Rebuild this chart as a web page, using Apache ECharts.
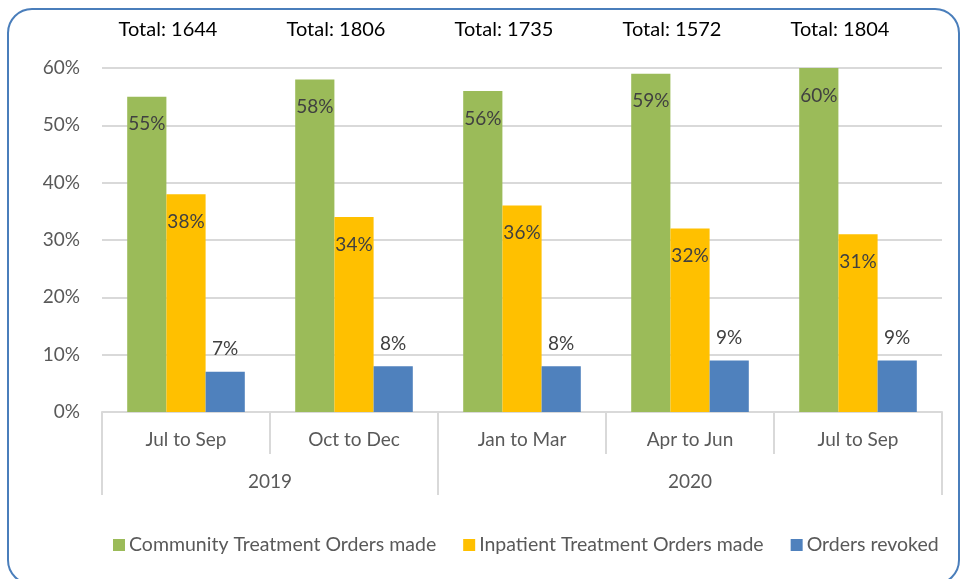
<!DOCTYPE html>
<html>
<head>
<meta charset="utf-8">
<script src="https://cdn.jsdelivr.net/npm/echarts@6/dist/echarts.min.js"></script>
<style>html,body{margin:0;padding:0;background:#fff;}#c{width:960px;height:579px;}</style>
</head>
<body>
<div id="c"></div>
<script>
const quarters = ['Jul to Sep', 'Oct to Dec', 'Jan to Mar', 'Apr to Jun', 'Jul to Sep'];
const years = ['2019', '2020'];
const quartersPerYear = [2, 3];
const totals = [1644, 1806, 1735, 1572, 1804];
const communityOrders = [55, 58, 56, 59, 60];
const inpatientOrders = [38, 34, 36, 32, 31];
const ordersRevoked = [7, 8, 8, 9, 9];

const FONT = 'Lato';
const GRAY = '#595959';
const LINE = '#d9d9d9';

// year group boundaries and centres on a 0..N scale
const yearBounds = [0];
quartersPerYear.forEach(n => yearBounds.push(yearBounds[yearBounds.length - 1] + n));
const yearCentres = years.map((y, i) => (yearBounds[i] + yearBounds[i + 1]) / 2);

const chart = echarts.init(document.getElementById('c'), null, { renderer: 'canvas' });

const labelCommon = { show: true, color: '#404040', fontFamily: FONT, fontSize: 19, formatter: p => p.value + '%' };

chart.setOption({
  animation: false,
  textStyle: { fontFamily: FONT },
  graphic: [{
    type: 'rect', shape: { x: 8, y: 9, width: 951, height: 575, r: 24 },
    style: { fill: 'none', stroke: '#4a7ebb', lineWidth: 2 }, silent: true, z: -1
  }],
  grid: { left: 102, right: 18, top: 68, bottom: 167 },
  legend: {
    bottom: 19, left: 108, itemWidth: 12, itemHeight: 12, itemGap: 27,
    icon: 'rect',
    textStyle: { color: GRAY, fontSize: 19.5, fontFamily: FONT, padding: [0, 0, 0, -1] },
    data: ['Community Treatment Orders made', 'Inpatient Treatment Orders made', 'Orders revoked']
  },
  xAxis: [
    {
      type: 'category', data: quarters, position: 'bottom',
      axisLine: { lineStyle: { color: LINE, width: 2 } },
      axisTick: { show: true, length: 42, interval: 0, lineStyle: { color: LINE, width: 2 } },
      axisLabel: { color: GRAY, fontSize: 19, margin: 18, interval: 0 }
    },
    {
      type: 'value', min: 0, max: quarters.length, position: 'bottom', offset: 0,
      axisLine: { show: false },
      splitLine: { show: false },
      axisTick: { show: true, length: 83, customValues: yearBounds, lineStyle: { color: LINE, width: 2 } },
      axisLabel: {
        color: GRAY, fontSize: 19, margin: 60, customValues: yearCentres,
        formatter: v => years[yearCentres.indexOf(v)] || ''
      }
    },
    {
      type: 'category', data: totals.map(t => 'Total: ' + t), position: 'top',
      axisLine: { show: false }, axisTick: { show: false },
      axisLabel: { color: '#000', fontSize: 20, margin: 28, interval: 0, padding: [0, 36, 0, 0] }
    }
  ],
  yAxis: {
    type: 'value', min: 0, max: 60, interval: 10,
    axisLine: { show: false }, axisTick: { show: false },
    splitLine: { lineStyle: { color: LINE, width: 2 } },
    axisLabel: { color: GRAY, fontSize: 19, margin: 22, formatter: v => v + '%' }
  },
  series: [
    {
      name: 'Community Treatment Orders made', type: 'bar', data: communityOrders,
      itemStyle: { color: '#9bbb59' }, barGap: '0%', barCategoryGap: '30%',
      label: Object.assign({ position: 'insideTop', distance: 18 }, labelCommon)
    },
    {
      name: 'Inpatient Treatment Orders made', type: 'bar', data: inpatientOrders,
      itemStyle: { color: '#ffc000' }, barGap: '0%', barCategoryGap: '30%',
      label: Object.assign({ position: 'insideTop', distance: 18 }, labelCommon)
    },
    {
      name: 'Orders revoked', type: 'bar', data: ordersRevoked,
      itemStyle: { color: '#4f81bd' }, barGap: '0%', barCategoryGap: '30%',
      label: Object.assign({ position: 'top', distance: 13 }, labelCommon)
    }
  ]
});
</script>
</body>
</html>
